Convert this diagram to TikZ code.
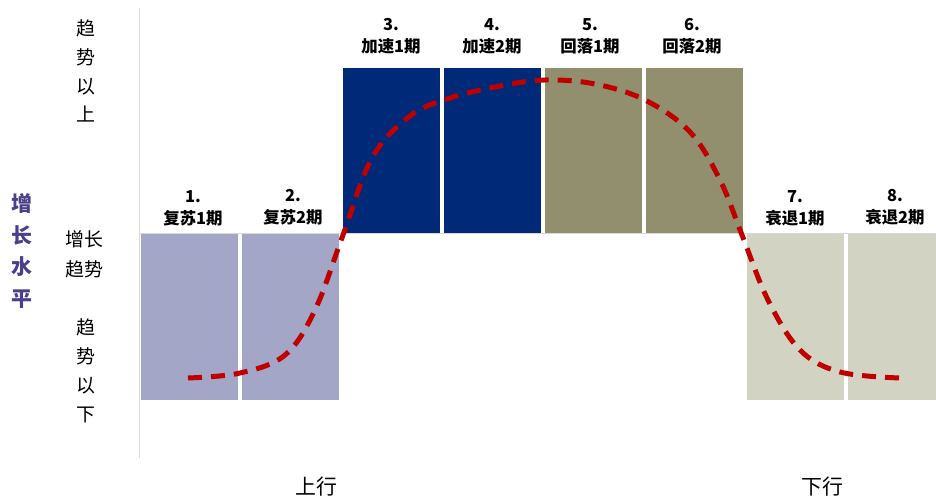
\documentclass[tikz,border=0pt]{standalone}
\usepackage{fontspec}
\newfontfamily\cjk{Noto Sans CJK SC}
\usepackage{tikz}
\usetikzlibrary{positioning}
\definecolor{recov}{HTML}{A3A6C6}
\definecolor{accel}{HTML}{002A78}
\definecolor{fall}{HTML}{918F6D}
\definecolor{reces}{HTML}{D3D3C4}
\definecolor{cyc}{HTML}{C00000}
\definecolor{lvl}{HTML}{4B3F8A}

\tikzset{
  plabel/.style={align=center,font=\cjk\bfseries\fontsize{16.5}{22}\selectfont,inner sep=0pt},
  side/.style={align=center,font=\cjk\fontsize{19}{29}\selectfont,inner sep=0pt},
}

\begin{document}
\begin{tikzpicture}[x=1bp,y=-1bp]
  \useasboundingbox (0,0) rectangle (936,502);
  % axes
  \draw[black!15,line width=1pt] (139,8)--(139,458);
  \draw[black!15,line width=1pt] (139,233)--(936,233);
  % phase boxes
  \fill[recov] (141,234) rectangle (238,400);
  \fill[recov] (242,234) rectangle (339,400);
  \fill[accel] (343,68) rectangle (440,233);
  \fill[accel] (444,68) rectangle (541,233);
  \fill[fall] (545,68) rectangle (642,233);
  \fill[fall] (646,68) rectangle (743,233);
  \fill[reces] (747,234) rectangle (844,400);
  \fill[reces] (848,234) rectangle (936,400);
  % phase labels
  \node[plabel] (p1) at (193,208) {1.\\复苏1期};
  \node[plabel] (p2) at (293,207) {2.\\复苏2期};
  \node[plabel] (p3) at (391,36) {3.\\加速1期};
  \node[plabel] (p4) at (492,36) {4.\\加速2期};
  \node[plabel] (p5) at (590,36) {5.\\回落1期};
  \node[plabel] (p6) at (692,36) {6.\\回落2期};
  \node[plabel] (p7) at (795,208) {7.\\衰退1期};
  \node[plabel] (p8) at (895,207) {8.\\衰退2期};
  % side labels
  \node[side] (above) at (86,71) {趋\\势\\以\\上};
  \node[side,font=\cjk\bfseries\fontsize{21}{32}\selectfont,text=lvl] (level) at (22,251) {增\\长\\水\\平};
  \node[side,font=\cjk\fontsize{19}{30}\selectfont] (trend) at (84,254) {增长\\趋势};
  \node[side] (below) at (86,371) {趋\\势\\以\\下};
  \node[font=\cjk\fontsize{21}{24}\selectfont] (up) at (316,487) {上行};
  \node[font=\cjk\fontsize{21}{24}\selectfont] (down) at (822,487) {下行};
  % cycle curve
  \draw[cyc,line width=5pt,dash pattern=on 14bp off 9bp] plot[smooth,tension=0.6] coordinates {
    (188,378) (240,373) (285,355) (315,310) (343,235) (372,158) (410,116)
    (450,98) (500,86) (545,80) (595,84) (645,100) (690,132) (720,180)
    (742,235) (768,300) (800,350) (840,372) (900,378)};
\end{tikzpicture}
\end{document}
